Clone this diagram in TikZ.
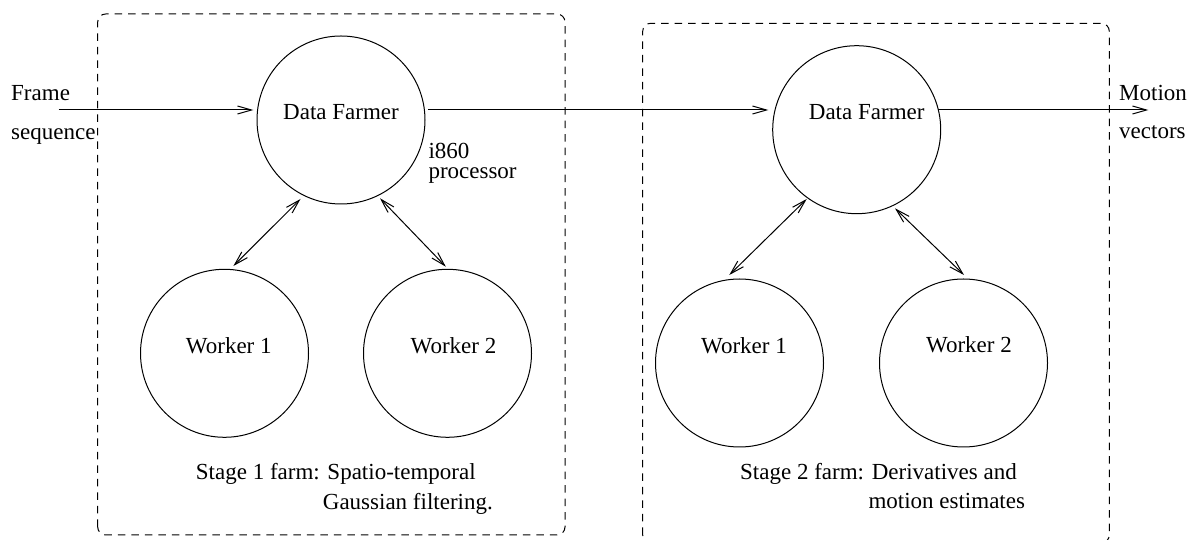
\documentclass[tikz,border=0pt]{standalone}
\usepackage{fontspec}
\setmainfont{Liberation Serif}
\usetikzlibrary{arrows.meta,calc}
\begin{document}
\begin{tikzpicture}[x=1pt,y=1pt,
  every node/.style={font=\fontsize{23pt}{27pt}\selectfont, inner sep=0pt},
  proc/.style={circle, draw, line width=1pt, minimum size=168pt},
  lbl/.style={anchor=base west},
  clbl/.style={anchor=base},
  farm/.style={draw, line width=1pt, dash pattern=on 7.5pt off 6pt, rounded corners=8pt},
  flow/.style={line width=1pt, -{Straight Barb[length=14pt,width=8pt]}},
  link/.style={line width=1pt, {Straight Barb[length=14pt,width=8pt]}-{Straight Barb[length=14pt,width=8pt]}}]

\useasboundingbox (0,0) rectangle (1191,540);

% processor farms
\draw[farm] (97.7,5) rectangle (565,526);
\draw[farm] (642.7,-3) rectangle (1109.3,516.7);

% processors
\node[proc] (df1) at (341,420) {};
\node[proc] (df2) at (856.7,410.3) {};
\node[proc] (w1a) at (224.5,186.7) {};
\node[proc] (w2a) at (447.5,186.7) {};
\node[proc] (w1b) at (739.5,177) {};
\node[proc] (w2b) at (963.5,177) {};

% processor names
\node[clbl] (tdf1) at (341,420.5) {Data Farmer};
\node[clbl] (tdf2) at (866.7,420) {Data Farmer};
\node[clbl] (tw1a) at (228.8,186) {Worker 1};
\node[clbl] (tw2a) at (453.5,186.7) {Worker 2};
\node[clbl] (tw1b) at (744,186) {Worker 1};
\node[clbl] (tw2b) at (969,187) {Worker 2};

% annotations (multi-line node: base is the last line)
\node[lbl, align=left, font=\fontsize{23pt}{20pt}\selectfont] (cpu) at (428.3,361.7) {i860\\processor};
\node[lbl] (in1) at (11,439) {Frame};
\node[lbl] (in2) at (11,400) {sequence};
\node[lbl] (out1) at (1119,439) {Motion};
\node[lbl] (out2) at (1119,401) {vectors};
\node[lbl] (s1a) at (195.7,60) {Stage 1 farm: Spatio-temporal};
\node[lbl] (s1b) at (322.7,30.7) {Gaussian filtering.};
\node[lbl] (s2a) at (740,60.7) {Stage 2 farm: Derivatives and};
\node[lbl] (s2b) at (868.3,31) {motion estimates};

% data flow
\coordinate (src) at (58.7,430);
\coordinate (snk) at (1148.3,430);
\draw[flow] (src) -- ($(df1)+(-87.7,10)$);
\draw[flow] ($(df1)+(87,10)$) -- ($(df2)+(-88.4,19.7)$);
\draw[flow] ($(df2)+(81.6,19.7)$) -- (snk);

% farmer-worker links
\draw[link] ($(df1)+(-40.5,-79)$) -- ($(w1a)+(8.9,87.3)$);
\draw[link] ($(df1)+(39,-78.3)$) -- ($(w2a)+(-1.7,86.6)$);
\draw[link] ($(df2)+(-50,-69.3)$) -- ($(w1b)+(-10.2,88)$);
\draw[link] ($(df2)+(38.3,-78.6)$) -- ($(w2b)+(0.5,88)$);
\end{tikzpicture}
\end{document}
